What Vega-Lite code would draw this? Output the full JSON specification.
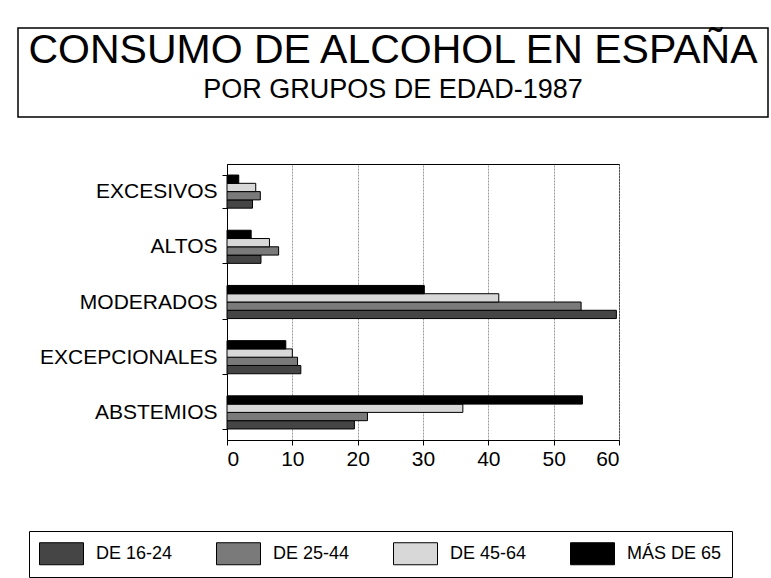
{
  "$schema": "https://vega.github.io/schema/vega-lite/v6.json",
  "padding": {"left": 17, "top": 27, "right": 3, "bottom": 3},
  "background": "white",
  "spacing": 34,
  "config": {
    "font": "Liberation Sans",
    "view": {"stroke": null},
    "axis": {"labelColor": "black", "domainColor": "black", "tickColor": "black", "labelFont": "Liberation Sans"},
    "legend": {"labelFont": "Liberation Sans", "labelColor": "black"}
  },
  "vconcat": [
    {
      "width": 750,
      "height": 89,
      "view": {"stroke": "black", "strokeWidth": 1.5},
      "data": {"values": [
        {"line": "a", "text": "CONSUMO DE ALCOHOL EN ESPAÑA"},
        {"line": "b", "text": "POR GRUPOS DE EDAD-1987"}
      ]},
      "layer": [
        {"transform": [{"filter": {"field": "line", "equal": "a"}}],
         "mark": {"type": "text", "font": "Liberation Sans", "fontSize": 41, "baseline": "middle", "align": "center", "color": "black", "dy": -2},
         "encoding": {
           "y": {"field": "line", "type": "nominal", "axis": null, "scale": {"type": "point", "padding": 0.64, "domain": ["a", "b"]}},
           "text": {"field": "text", "type": "nominal"}
         }},
        {"transform": [{"filter": {"field": "line", "equal": "b"}}],
         "mark": {"type": "text", "font": "Liberation Sans", "fontSize": 27, "baseline": "middle", "align": "center", "color": "black", "dy": -2},
         "encoding": {
           "y": {"field": "line", "type": "nominal", "axis": null, "scale": {"type": "point", "padding": 0.64, "domain": ["a", "b"]}},
           "text": {"field": "text", "type": "nominal"}
         }}
      ]
    },
    {
      "spacing": 20,
      "hconcat": [
        {
          "width": 1,
          "height": 276,
          "data": {"values": [{"v": "x"}]},
          "mark": {"type": "point", "opacity": 0, "size": 0},
          "encoding": {}
        },
        {
          "width": 392,
          "height": 276,
          "view": {"stroke": "black", "strokeWidth": 1},
          "data": {"values": [
            {"cat": "EXCESIVOS", "grupo": "DE 16-24", "valor": 3.9},
            {"cat": "EXCESIVOS", "grupo": "DE 25-44", "valor": 5.1},
            {"cat": "EXCESIVOS", "grupo": "DE 45-64", "valor": 4.4},
            {"cat": "EXCESIVOS", "grupo": "MÁS DE 65", "valor": 1.8},
            {"cat": "ALTOS", "grupo": "DE 16-24", "valor": 5.2},
            {"cat": "ALTOS", "grupo": "DE 25-44", "valor": 7.9},
            {"cat": "ALTOS", "grupo": "DE 45-64", "valor": 6.5},
            {"cat": "ALTOS", "grupo": "MÁS DE 65", "valor": 3.7},
            {"cat": "MODERADOS", "grupo": "DE 16-24", "valor": 59.6},
            {"cat": "MODERADOS", "grupo": "DE 25-44", "valor": 54.2},
            {"cat": "MODERADOS", "grupo": "DE 45-64", "valor": 41.6},
            {"cat": "MODERADOS", "grupo": "MÁS DE 65", "valor": 30.2},
            {"cat": "EXCEPCIONALES", "grupo": "DE 16-24", "valor": 11.3},
            {"cat": "EXCEPCIONALES", "grupo": "DE 25-44", "valor": 10.8},
            {"cat": "EXCEPCIONALES", "grupo": "DE 45-64", "valor": 10.0},
            {"cat": "EXCEPCIONALES", "grupo": "MÁS DE 65", "valor": 9.0},
            {"cat": "ABSTEMIOS", "grupo": "DE 16-24", "valor": 19.5},
            {"cat": "ABSTEMIOS", "grupo": "DE 25-44", "valor": 21.5},
            {"cat": "ABSTEMIOS", "grupo": "DE 45-64", "valor": 36.1},
            {"cat": "ABSTEMIOS", "grupo": "MÁS DE 65", "valor": 54.4}
          ]},
          "mark": {"type": "bar", "stroke": "black", "strokeWidth": 1},
          "encoding": {
            "y": {
              "field": "cat", "type": "nominal",
              "sort": ["EXCESIVOS", "ALTOS", "MODERADOS", "EXCEPCIONALES", "ABSTEMIOS"],
              "scale": {"paddingInner": 0.4, "paddingOuter": 0.2},
              "axis": {"title": null, "labelFontSize": 21, "labelPadding": 5, "tickSize": 5, "tickBand": "extent", "grid": false}
            },
            "yOffset": {
              "field": "grupo", "type": "nominal",
              "sort": ["MÁS DE 65", "DE 45-64", "DE 25-44", "DE 16-24"],
              "scale": {"paddingInner": 0, "paddingOuter": 0}
            },
            "x": {
              "field": "valor", "type": "quantitative",
              "scale": {"domain": [0, 60], "nice": false},
              "axis": {"title": null, "values": [0, 10, 20, 30, 40, 50, 60], "labelFontSize": 21, "labelPadding": 3, "tickSize": 5, "grid": true, "gridColor": "#9a9a9a", "gridDash": [2, 1], "gridWidth": 1}
            },
            "color": {
              "field": "grupo", "type": "nominal",
              "scale": {"domain": ["DE 16-24", "DE 25-44", "DE 45-64", "MÁS DE 65"], "range": ["#454545", "#7a7a7a", "#d8d8d8", "#000000"]},
              "legend": {
                "title": null, "orient": "none", "legendX": 11, "legendY": 503, "direction": "horizontal", "columns": 4,
                "padding": 10, "strokeColor": "black",
                "symbolType": "M-1,-0.917H2.667V0.917H-1Z", "symbolSize": 576, "symbolStrokeColor": "black", "symbolStrokeWidth": 1, "symbolOpacity": 1,
                "labelFontSize": 18, "labelOffset": 32, "columnPadding": 23, "gridAlign": "all", "labelLimit": 200
              }
            }
          }
        }
      ]
    }
  ]
}
